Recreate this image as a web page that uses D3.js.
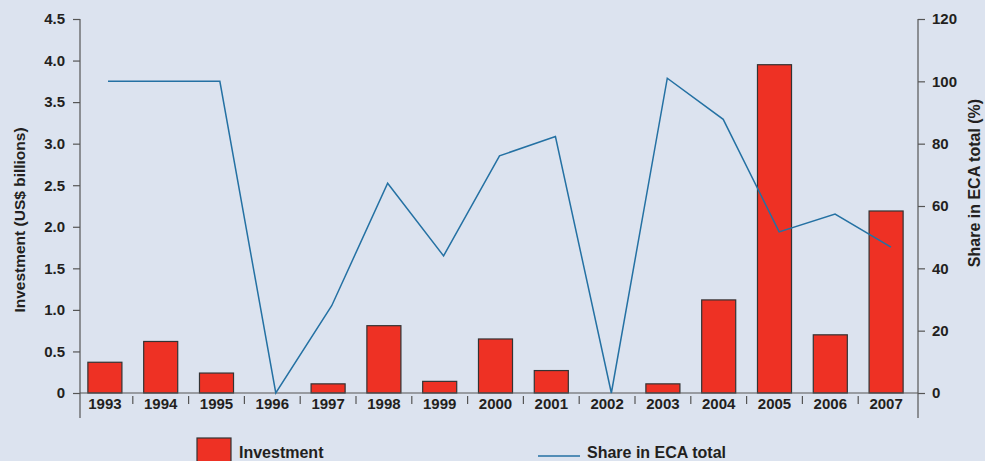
<!DOCTYPE html>
<html lang="en">
  <head>
    <meta charset="utf-8">
    <title>Investment and share in ECA total</title>
    <script src="https://d3js.org/d3.v7.min.js"></script>
    <style type="text/css">
      body { margin: 0; background: #dce3ef; }
      svg { display: block; font-family: "Liberation Sans", Arial, sans-serif; }
      .axis text { font-size: 15px; font-weight: bold; fill: #231f20; }
      .axis path, .axis line { stroke: #555; stroke-width: 1.2px; }
      .title { font-size: 15.5px; font-weight: bold; fill: #231f20; }
      .legend { font-size: 16px; font-weight: bold; fill: #231f20; }
      .bar { fill: #ee3124; stroke: #333; stroke-width: 1.2px; }
      .share { fill: none; stroke: #2471a3; stroke-width: 1.5px; }
    </style>
  </head>
  <body>
    <script>
      var w = 985;
      var h = 461;

      var years = ["1993", "1994", "1995", "1996", "1997", "1998", "1999", "2000",
                   "2001", "2002", "2003", "2004", "2005", "2006", "2007"];
      var investment = [0.37, 0.62, 0.24, 0, 0.11, 0.81, 0.14, 0.65,
                        0.27, 0, 0.11, 1.12, 3.95, 0.70, 2.19];
      var share = [100, 100, 100, 0, 28, 67.3, 44, 76.1,
                   82.3, 0, 101, 87.8, 51.7, 57.4, 46.8];
      var leftTicks = [0, 0.5, 1.0, 1.5, 2.0, 2.5, 3.0, 3.5, 4.0, 4.5];
      var rightTicks = [0, 20, 40, 60, 80, 100, 120];

      var svg = d3.select("body").append("svg")
          .attr("width", w).attr("height", h);

      var plotTop = 19, plotBottom = 393, plotLeft = 80, plotRight = 918;

      var xScale = d3.scaleBand()
        .domain(years)
        .range([77, 914])
        .paddingInner(0.39)
        .paddingOuter(0.195);

      var xLine = d3.scalePoint()
        .domain(years)
        .range([108, 891]);

      var yLeft = d3.scaleLinear().domain([0, 4.5]).range([plotBottom, plotTop]);
      var yRight = d3.scaleLinear().domain([0, 120]).range([plotBottom, plotTop]);

      var barData = years.map((y, i) => ({year: y, value: investment[i]}))
        .filter(d => d.value > 0);

      // bars
      svg.selectAll(".bar")
        .data(barData)
        .enter().append("rect")
        .attr("class", "bar")
        .attr("x", d => xScale(d.year))
        .attr("width", xScale.bandwidth())
        .attr("y", d => yLeft(d.value))
        .attr("height", d => plotBottom - yLeft(d.value));

      // x axis: baseline plus separators between years
      var xg = svg.append("g").attr("class", "axis");
      xg.append("line")
        .attr("x1", plotLeft).attr("x2", plotRight)
        .attr("y1", plotBottom).attr("y2", plotBottom);
      var step = xScale.step();
      xg.selectAll(".sep")
        .data(years.slice(1))
        .enter().append("line")
        .attr("x1", d => xScale(d) - step * 0.195)
        .attr("x2", d => xScale(d) - step * 0.195)
        .attr("y1", plotBottom + 3).attr("y2", plotBottom + 11);
      xg.selectAll(".lab")
        .data(years)
        .enter().append("text")
        .attr("x", d => xScale(d) + xScale.bandwidth() / 2)
        .attr("y", plotBottom + 16)
        .attr("text-anchor", "middle")
        .text(d => d);

      // left axis
      svg.append("g").attr("class", "axis")
        .attr("transform", "translate(" + plotLeft + ",0)")
        .call(d3.axisLeft(yLeft).tickValues(leftTicks).tickSize(7).tickPadding(8)
          .tickSizeOuter(0)
          .tickFormat(d => d === 0 ? "0" : d3.format(".1f")(d)))
        .call(g => g.select(".domain").attr("d", "M0," + plotTop + "V418"));

      // right axis
      svg.append("g").attr("class", "axis")
        .attr("transform", "translate(" + plotRight + ",0)")
        .call(d3.axisRight(yRight).tickValues(rightTicks).tickSize(7).tickPadding(7)
          .tickSizeOuter(0))
        .call(g => g.select(".domain").attr("d", "M0," + plotTop + "V418"));

      svg.selectAll(".axis .tick text").attr("font-size", null).attr("font-family", null);

      // share line
      var lineGen = d3.line()
        .x((d, i) => xLine(years[i]))
        .y(d => yRight(d));

      svg.append("path")
        .datum(share)
        .attr("class", "share")
        .attr("d", lineGen);

      // axis titles
      svg.append("text").attr("class", "title")
        .attr("transform", "translate(25,220) rotate(-90)")
        .attr("text-anchor", "middle")
        .text("Investment (US$ billions)");

      svg.append("text").attr("class", "title")
        .attr("transform", "translate(980,183) rotate(-90)")
        .attr("text-anchor", "middle")
        .style("font-size", "16px")
        .text("Share in ECA total (%)");

      // legend
      svg.append("rect")
        .attr("class", "bar")
        .attr("x", 197).attr("y", 438)
        .attr("width", 34).attr("height", 28);
      svg.append("text").attr("class", "legend")
        .attr("x", 239).attr("y", 458)
        .text("Investment");
      svg.append("line")
        .attr("class", "share")
        .attr("x1", 538).attr("x2", 580)
        .attr("y1", 456).attr("y2", 456);
      svg.append("text").attr("class", "legend")
        .attr("x", 587).attr("y", 458)
        .text("Share in ECA total");
    </script>
  </body>
</html>
